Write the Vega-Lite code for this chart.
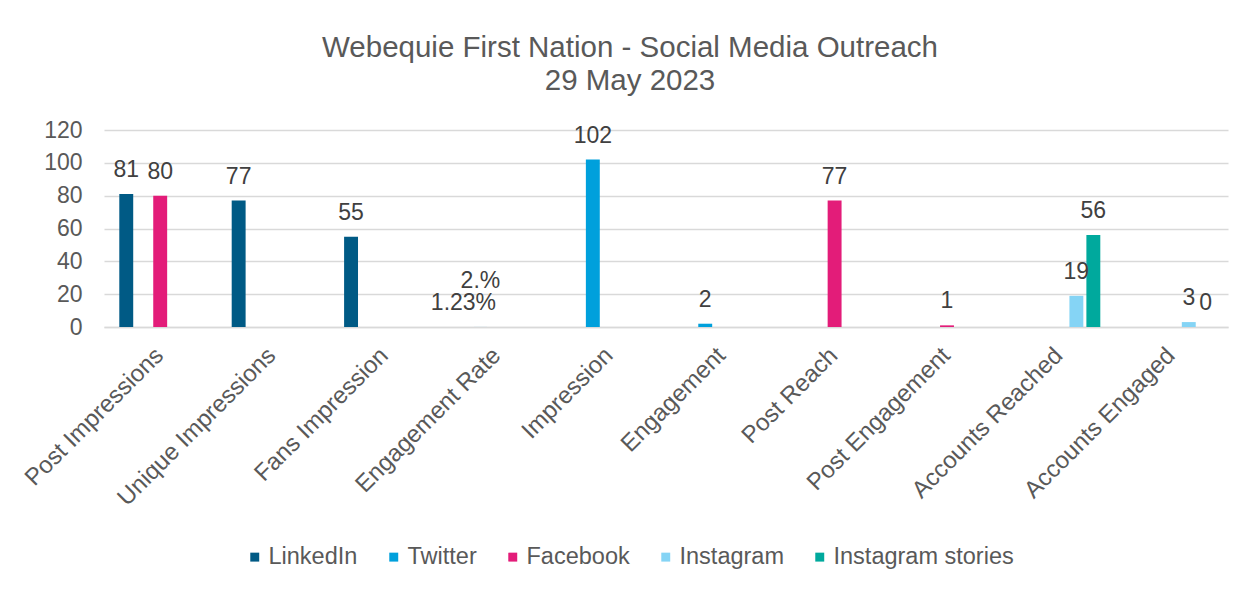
{
  "$schema": "https://vega.github.io/schema/vega-lite/v6.json",
  "width": 1124,
  "height": 197,
  "autosize": {"type": "none"},
  "padding": {"left": 104, "top": 130, "right": 29, "bottom": 265},
  "background": "white",
  "config": {"view": {"stroke": null}, "font": "Liberation Sans"},
  "title": {
    "text": ["Webequie First Nation - Social Media Outreach", "29 May 2023"],
    "fontSize": 29.5,
    "fontWeight": "normal",
    "color": "#595959",
    "lineHeight": 33,
    "offset": 23,
    "dx": -36,
    "anchor": "middle"
  },
  "data": {
    "values": [
      {"category": "Post Impressions", "platform": "LinkedIn", "value": 81, "label": "81"},
      {"category": "Post Impressions", "platform": "Facebook", "value": 80, "label": "80"},
      {"category": "Unique Impressions", "platform": "LinkedIn", "value": 77, "label": "77"},
      {"category": "Fans Impression", "platform": "LinkedIn", "value": 55, "label": "55"},
      {"category": "Engagement Rate", "platform": "LinkedIn", "value": 0.0123, "label": "1.23%"},
      {"category": "Engagement Rate", "platform": "Twitter", "value": 0.02, "label": "2.%"},
      {"category": "Impression", "platform": "Twitter", "value": 102, "label": "102"},
      {"category": "Engagement", "platform": "Twitter", "value": 2, "label": "2"},
      {"category": "Post Reach", "platform": "Facebook", "value": 77, "label": "77"},
      {"category": "Post Engagement", "platform": "Facebook", "value": 1, "label": "1"},
      {"category": "Accounts Reached", "platform": "Instagram", "value": 19, "label": "19"},
      {"category": "Accounts Reached", "platform": "Instagram stories", "value": 56, "label": "56"},
      {"category": "Accounts Engaged", "platform": "Instagram", "value": 3, "label": "3"},
      {"category": "Accounts Engaged", "platform": "Instagram stories", "value": 0, "label": "0"}
    ]
  },
  "encoding": {
    "x": {
      "field": "category",
      "type": "nominal",
      "sort": ["Post Impressions", "Unique Impressions", "Fans Impression", "Engagement Rate", "Impression", "Engagement", "Post Reach", "Post Engagement", "Accounts Reached", "Accounts Engaged"],
      "scale": {"paddingInner": 0.245, "paddingOuter": 0.1225},
      "axis": {
        "title": null,
        "labelAngle": -45,
        "labelFontSize": 24,
        "labelColor": "#595959",
        "labelPadding": 16,
        "labelOffset": -9,
        "labelLimit": 400,
        "ticks": false,
        "domainColor": "#d9d9d9",
        "domainWidth": 1.5
      }
    },
    "xOffset": {
      "field": "platform",
      "type": "nominal",
      "scale": {"domain": ["LinkedIn", "Twitter", "Facebook", "Instagram", "Instagram stories"], "paddingInner": 0.18, "paddingOuter": 0.09}
    },
    "y": {
      "field": "value",
      "type": "quantitative",
      "scale": {"domain": [0, 120]},
      "axis": {
        "title": null,
        "values": [0, 20, 40, 60, 80, 100, 120],
        "domain": false,
        "ticks": false,
        "labelFontSize": 23,
        "labelColor": "#595959",
        "labelPadding": 22,
        "gridColor": "#d9d9d9",
        "gridWidth": 1.5
      }
    }
  },
  "layer": [
    {
      "mark": {"type": "bar"},
      "encoding": {
        "color": {
          "field": "platform",
          "type": "nominal",
          "scale": {
            "domain": ["LinkedIn", "Twitter", "Facebook", "Instagram", "Instagram stories"],
            "range": ["#005A85", "#00A0DC", "#E31C79", "#85D4F5", "#00A99D"]
          },
          "legend": {
            "orient": "none",
            "legendX": 139,
            "legendY": 415,
            "direction": "horizontal",
            "title": null,
            "symbolType": "square",
            "symbolSize": 80,
            "symbolStrokeWidth": 0,
            "labelFontSize": 23.5,
            "labelColor": "#595959",
            "labelOffset": 2,
            "labelLimit": 400,
            "columnPadding": 24
          }
        }
      }
    },
    {
      "transform": [{"filter": "datum.label !== '2.%'"}],
      "mark": {"type": "text", "baseline": "alphabetic", "dy": -17, "fontSize": 23, "color": "#404040"},
      "encoding": {"text": {"field": "label"}}
    },
    {
      "transform": [{"filter": "datum.label === '2.%'"}],
      "mark": {"type": "text", "baseline": "alphabetic", "dy": -39, "fontSize": 23, "color": "#404040"},
      "encoding": {"text": {"field": "label"}}
    }
  ]
}
